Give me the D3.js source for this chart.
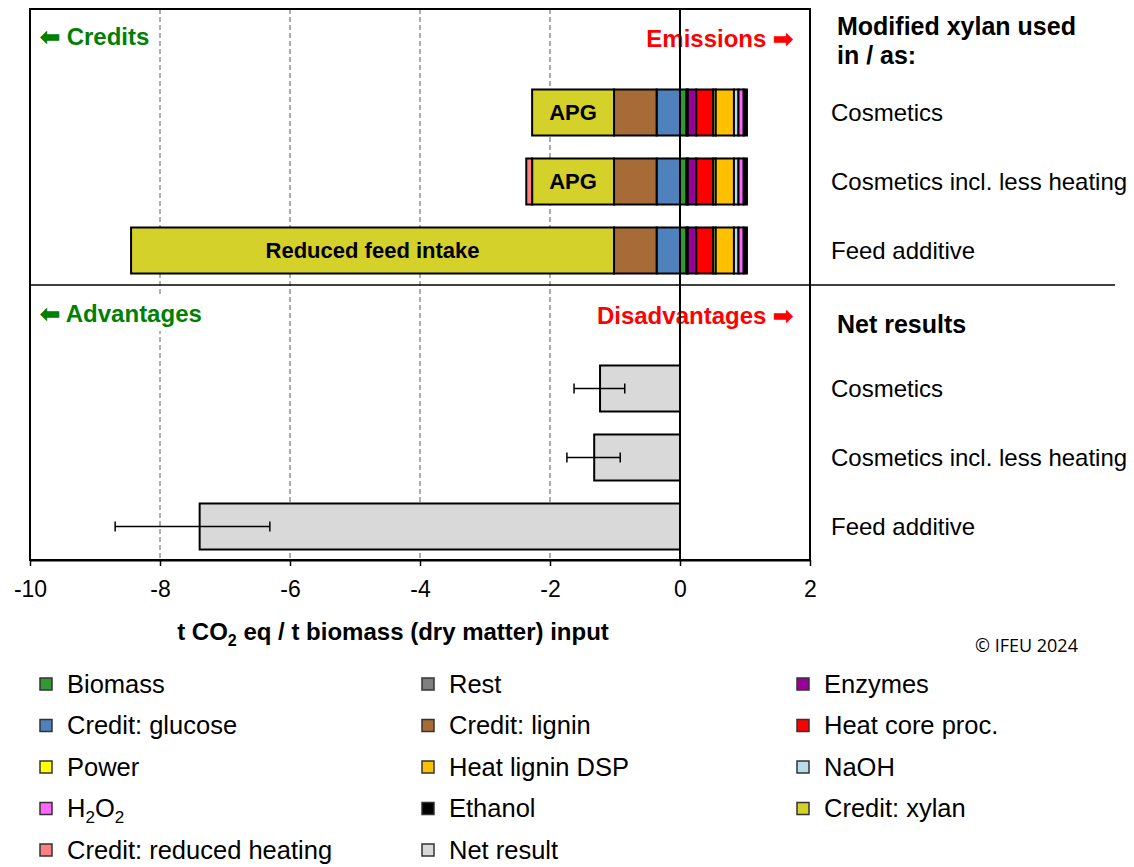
<!DOCTYPE html>
<html>
<head>
<meta charset="utf-8">
<script src="https://cdn.jsdelivr.net/npm/d3@7"></script>
<style>
  body { margin: 0; background: #fff; }
  svg text { font-family: "Liberation Sans", Arial, sans-serif; }
</style>
</head>
<body>
<svg id="chart" width="1134" height="867"></svg>
<script>

// categories
const useCases = ["Cosmetics", "Cosmetics incl. less heating", "Feed additive"];
const xylanLabels = ["APG", "APG", "Reduced feed intake"];

// contributions per use case (t CO2 eq / t biomass)
const biomass        = [0.10, 0.10, 0.10];
const rest           = [0.02, 0.02, 0.02];
const enzymes        = [0.13, 0.13, 0.13];
const creditGlucose  = [-0.36, -0.36, -0.36];
const creditLignin   = [-0.655, -0.655, -0.655];
const heatCore       = [0.26, 0.26, 0.26];
const power          = [0.04, 0.04, 0.04];
const heatLigninDSP  = [0.28, 0.28, 0.28];
const naoh           = [0.07, 0.07, 0.07];
const h2o2           = [0.08, 0.08, 0.08];
const ethanol        = [0.05, 0.05, 0.05];
const creditXylan    = [-1.26, -1.26, -7.43];
const creditHeating  = [0, -0.09, 0];

// net results with ranges
const netResult = [-1.23, -1.32, -7.39];
const netLow    = [-1.63, -1.74, -8.69];
const netHigh   = [-0.85, -0.92, -6.31];

const xTicks = [-10, -8, -6, -4, -2, 0, 2];

const seriesNames = ["Biomass", "Rest", "Enzymes", "Credit: glucose", "Credit: lignin", "Heat core proc.",
  "Power", "Heat lignin DSP", "NaOH", "H2O2", "Ethanol", "Credit: xylan", "Credit: reduced heating"];
const seriesValues = [biomass, rest, enzymes, creditGlucose, creditLignin, heatCore,
  power, heatLigninDSP, naoh, h2o2, ethanol, creditXylan, creditHeating];
const seriesColors = ["#339933", "#808080", "#990099", "#4f81bd", "#a66b36", "#ff0000",
  "#ffff00", "#ffc000", "#b7dee8", "#ff66ff", "#000000", "#d4d12a", "#ff8080"];
const netColor = "#d9d9d9";

const svg = d3.select("#chart");
const margin = {top: 9, left: 30, right: 810, bottom: 561};

// table for d3.stack
let table = useCases.map(function(c, i) {
  let row = {name: c};
  seriesNames.forEach(function(s, j) { row[s] = seriesValues[j][i]; });
  return row;
});

// SCALES
const x = d3.scaleLinear().domain([-10, 2]).range([margin.left, margin.right]);

const rows = ["hdrTop"].concat(useCases.map(d => "top|" + d), ["hdrNet"], useCases.map(d => "net|" + d));
const y = d3.scaleBand().domain(rows).range([margin.top, margin.bottom])
  .paddingInner(0.333).paddingOuter(0.1665);

// GRIDLINES
svg.append("g").selectAll("line")
  .data(xTicks.filter(d => d > -10 && d < 0))
  .enter().append("line")
  .attr("x1", d => x(d)).attr("x2", d => x(d))
  .attr("y1", margin.top).attr("y2", margin.bottom - 1)
  .attr("stroke", "#5f5f5f")
  .attr("stroke-width", 1)
  .attr("stroke-dasharray", "5,3");

// credit / emission side labels (white boxes hide grid)
const sideLabels = [
  {text: "\u2B05 Credits", x: 40, y: 37, anchor: "start", color: "#008000"},
  {text: "Emissions \u27A1", x: 793, y: 39, anchor: "end", color: "#ff0000"},
  {text: "\u2B05 Advantages", x: 40, y: 314, anchor: "start", color: "#008000"},
  {text: "Disadvantages \u27A1", x: 793, y: 316, anchor: "end", color: "#ff0000"}
];
let sideG = svg.append("g");
sideLabels.forEach(function(l) {
  let box = sideG.append("rect").attr("fill", "#fff");
  let t = sideG.append("text")
    .attr("x", l.x).attr("y", l.y).attr("dy", "0.35em")
    .attr("text-anchor", l.anchor)
    .attr("fill", l.color)
    .style("font-weight", "bold")
    .style("font-size", "24px")
    .text(l.text);
  let bb = t.node().getBBox();
  if (l.anchor == "start") {
    box.attr("x", bb.x - 4).attr("width", bb.width + 10);
  } else {
    box.attr("x", 590).attr("width", 210);
  }
  box.attr("y", l.y - 17).attr("height", 34);
});

// STACKED BARS
const stack = d3.stack().keys(seriesNames).offset(d3.stackOffsetDiverging);
const stacked = stack(table);

let barG = svg.append("g");
stacked.forEach(function(s, j) {
  barG.selectAll(".seg" + j)
    .data(s.filter(d => d[1] - d[0] != 0))
    .enter().append("rect")
    .attr("x", d => x(Math.min(d[0], d[1])))
    .attr("width", d => Math.abs(x(d[1]) - x(d[0])))
    .attr("y", d => y("top|" + d.data.name))
    .attr("height", y.bandwidth())
    .attr("fill", seriesColors[j])
    .attr("stroke", "#000")
    .attr("stroke-width", 2);
});

// labels inside xylan credit
const xylanIdx = seriesNames.indexOf("Credit: xylan");
barG.selectAll(".xylanLabel")
  .data(stacked[xylanIdx])
  .enter().append("text")
  .attr("x", d => (x(d[0]) + x(d[1])) / 2)
  .attr("y", d => y("top|" + d.data.name) + y.bandwidth() / 2)
  .attr("dy", "0.35em")
  .attr("text-anchor", "middle")
  .style("font-weight", "bold")
  .style("font-size", "22px")
  .text((d, i) => xylanLabels[i]);

// NET RESULT BARS
let netG = svg.append("g");
netG.selectAll("rect")
  .data(useCases)
  .enter().append("rect")
  .attr("x", (d, i) => x(Math.min(0, netResult[i])))
  .attr("width", (d, i) => Math.abs(x(netResult[i]) - x(0)))
  .attr("y", d => y("net|" + d))
  .attr("height", y.bandwidth())
  .attr("fill", netColor)
  .attr("stroke", "#000")
  .attr("stroke-width", 2);

// error bars
useCases.forEach(function(c, i) {
  let cy = y("net|" + c) + y.bandwidth() / 2;
  netG.append("line")
    .attr("x1", x(netLow[i])).attr("x2", x(netHigh[i]))
    .attr("y1", cy).attr("y2", cy)
    .attr("stroke", "#000").attr("stroke-width", 1.5);
  [netLow[i], netHigh[i]].forEach(function(v) {
    netG.append("line")
      .attr("x1", x(v)).attr("x2", x(v))
      .attr("y1", cy - 5).attr("y2", cy + 5)
      .attr("stroke", "#000").attr("stroke-width", 1.5);
  });
});

// zero line
svg.append("line")
  .attr("x1", x(0)).attr("x2", x(0))
  .attr("y1", margin.top).attr("y2", margin.bottom - 1)
  .attr("stroke", "#000").attr("stroke-width", 2);

// FRAME + divider
svg.append("rect")
  .attr("x", margin.left).attr("y", margin.top)
  .attr("width", margin.right - margin.left)
  .attr("height", margin.bottom - 1 - margin.top)
  .attr("fill", "none")
  .attr("stroke", "#000").attr("stroke-width", 2);

let divY = y("hdrNet") - y.step() * y.paddingInner() / 2;
svg.append("line")
  .attr("x1", margin.left).attr("x2", 1115)
  .attr("y1", divY).attr("y2", divY)
  .attr("stroke", "#000").attr("stroke-width", 1.5);

// X AXIS
let xAxis = d3.axisBottom(x).tickValues(xTicks).tickSize(6).tickPadding(15).tickSizeOuter(0)
  .tickFormat(d => String(d));
let axisG = svg.append("g")
  .attr("transform", "translate(0," + (margin.bottom - 1) + ")")
  .call(xAxis);
axisG.select(".domain").attr("stroke-width", 2);
axisG.selectAll("line").attr("stroke-width", 1.5);
axisG.selectAll("text")
  .style("font-size", "23px")
  .style("font-family", "'Liberation Sans', Arial, sans-serif")
  .attr("fill", "#000");

let title = svg.append("text")
  .attr("x", 393).attr("y", 640)
  .attr("text-anchor", "middle")
  .style("font-weight", "bold")
  .style("font-size", "24px");
title.append("tspan").text("t CO");
title.append("tspan").attr("dy", 6).style("font-size", "16px").text("2");
title.append("tspan").attr("dy", -6).text(" eq / t biomass (dry matter) input");

// RIGHT SIDE LABELS
svg.append("text")
  .attr("x", 837).attr("y", 35)
  .style("font-weight", "bold").style("font-size", "25px")
  .text("Modified xylan used");
svg.append("text")
  .attr("x", 837).attr("y", 64)
  .style("font-weight", "bold").style("font-size", "25px")
  .text("in / as:");
svg.append("text")
  .attr("x", 837).attr("y", y("hdrNet") + y.bandwidth() / 2 + 5).attr("dy", "0.35em")
  .style("font-weight", "bold").style("font-size", "25px")
  .text("Net results");

svg.append("g").selectAll("text")
  .data(rows.filter(r => r.indexOf("|") > 0))
  .enter().append("text")
  .attr("x", 831)
  .attr("y", d => y(d) + y.bandwidth() / 2)
  .attr("dy", "0.35em")
  .style("font-size", "24px")
  .text(d => d.split("|")[1]);

svg.append("text")
  .attr("x", 975).attr("y", 646).attr("dy", "0.35em")
  .style("font-family", "'Open Sans', sans-serif")
  .style("font-size", "18px")
  .text("\u00A9 IFEU 2024");

// LEGEND
const legendItems = seriesNames.concat(["Net result"]);
const legendColors = seriesColors.concat([netColor]);
const legendCols = [40, 422, 797];

let legend = svg.append("g");
legendItems.forEach(function(name, i) {
  let lx = legendCols[i % 3];
  let ly = 684 + Math.floor(i / 3) * 41.5;
  legend.append("rect")
    .attr("x", lx).attr("y", ly - 6)
    .attr("width", 12).attr("height", 12)
    .attr("fill", legendColors[i])
    .attr("stroke", "#333").attr("stroke-width", 1.5);
  let t = legend.append("text")
    .attr("x", lx + 27).attr("y", ly).attr("dy", "0.35em")
    .style("font-size", "25.5px");
  if (name == "H2O2") {
    t.append("tspan").text("H");
    t.append("tspan").attr("dy", 6).style("font-size", "17px").text("2");
    t.append("tspan").attr("dy", -6).text("O");
    t.append("tspan").attr("dy", 6).style("font-size", "17px").text("2");
  } else {
    t.text(name);
  }
});

</script>
</body>
</html>
